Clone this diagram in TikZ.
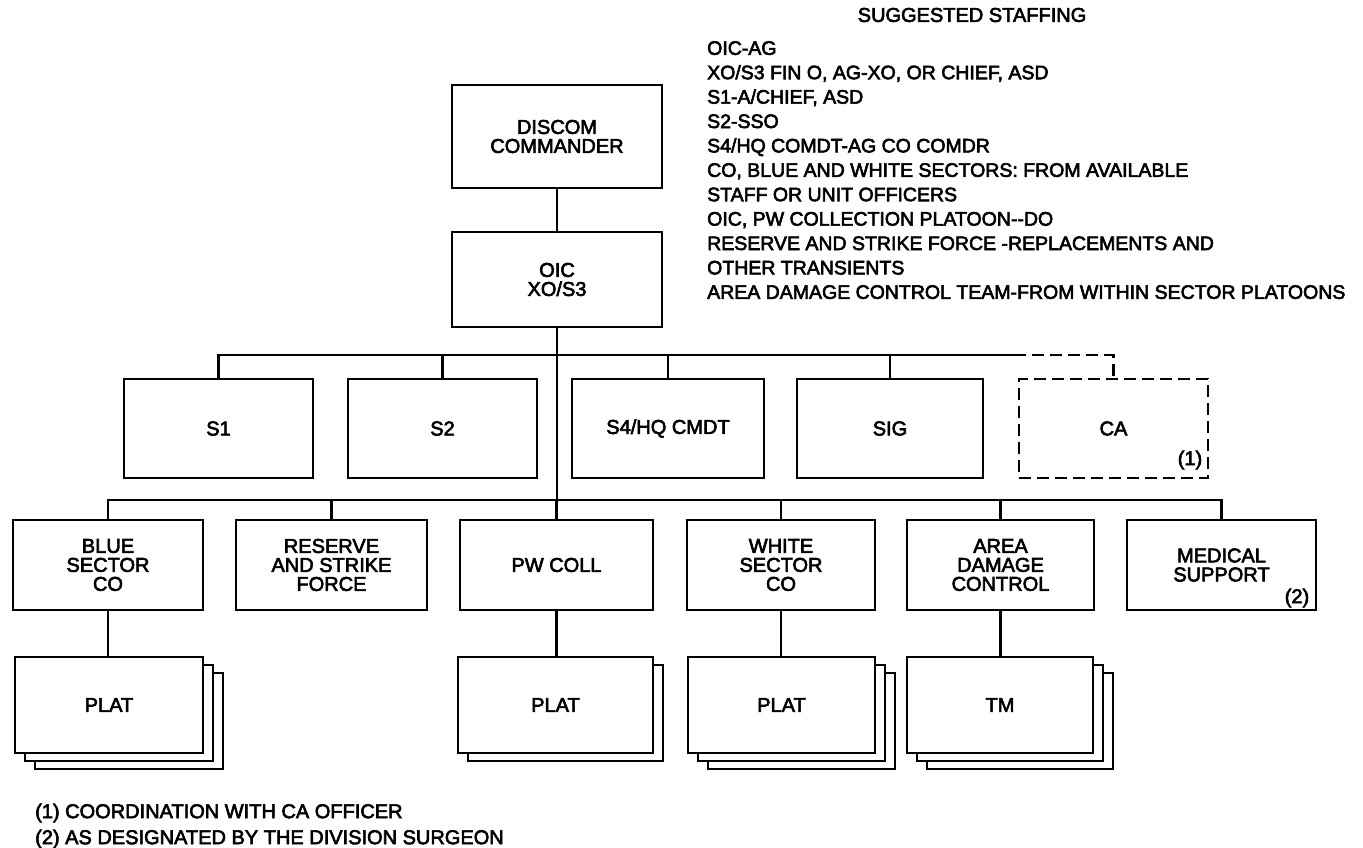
\documentclass[tikz,border=0pt]{standalone}
\usepackage{fontspec}
\setmainfont{Liberation Sans}[FakeBold=3]
\newcommand\labfont{\fontsize{20}{19}\selectfont}
\newcommand\stafffont{\fontsize{19.5}{24.4}\selectfont}
\begin{document}
\begin{tikzpicture}[x=1pt,y=-1pt,
  orgbox/.style={draw, line width=2.6pt, align=center, inner sep=0pt, fill=white, font=\labfont},
  dashbox/.style={orgbox, dash pattern=on 12pt off 6pt},
  conn/.style={line width=2.5pt},
  dconn/.style={line width=2.5pt, dash pattern=on 12pt off 6pt},
  note/.style={font=\labfont, inner sep=0pt}
]
\useasboundingbox (0,0) rectangle (1363,848);

% staffing text
\node[font=\labfont, inner sep=0pt] (head) at (972,15) {SUGGESTED STAFFING};
\node[font=\stafffont, align=left, anchor=north west, inner sep=0pt] (staff) at (707,41) {%
OIC-AG\\
XO/S3 FIN O, AG-XO, OR CHIEF, ASD\\
S1-A/CHIEF, ASD\\
S2-SSO\\
S4/HQ COMDT-AG CO COMDR\\
CO, BLUE AND WHITE SECTORS: FROM AVAILABLE\\
STAFF OR UNIT OFFICERS\\
OIC, PW COLLECTION PLATOON-{}-DO\\
RESERVE AND STRIKE FORCE -REPLACEMENTS AND\\
OTHER TRANSIENTS\\
AREA DAMAGE CONTROL TEAM-FROM WITHIN SECTOR PLATOONS};

% command boxes
\node[orgbox, minimum width=210, minimum height=103] (discom) at (557,136.5) {DISCOM\\COMMANDER};
\node[orgbox, minimum width=210, minimum height=95] (oic) at (557,279.5) {OIC\\XO/S3};

% staff row
\node[orgbox, minimum width=189, minimum height=99] (s1) at (218.5,428.5) {S1};
\node[orgbox, minimum width=189, minimum height=99] (s2) at (442.5,428.5) {S2};
\node[orgbox, minimum width=192, minimum height=99] (s4) at (668,428.5) {S4/HQ CMDT};
\node[orgbox, minimum width=186, minimum height=99] (sig) at (890,428.5) {SIG};
\node[dashbox, minimum width=189, minimum height=99] (ca) at (1113.5,428.5) {CA};
\node[note] (n1) at (1190,460) {(1)};

% unit row
\node[orgbox, minimum width=190, minimum height=90] (blue) at (108,565) {BLUE\\SECTOR\\CO};
\node[orgbox, minimum width=191, minimum height=90] (res) at (331.5,565) {RESERVE\\AND STRIKE\\FORCE};
\node[orgbox, minimum width=193, minimum height=90] (pw) at (556.5,565) {PW COLL};
\node[orgbox, minimum width=188, minimum height=90] (white) at (781,565) {WHITE\\SECTOR\\CO};
\node[orgbox, minimum width=187, minimum height=90] (area) at (1000.5,565) {AREA\\DAMAGE\\CONTROL};
\node[orgbox, minimum width=189, minimum height=90] (med) at (1221.5,565) {MEDICAL\\SUPPORT};
\node[note] (n2) at (1297,598) {(2)};

% stacked subordinate boxes (back layers first)
\node[orgbox, minimum width=188, minimum height=96] (p1c) at (129,721) {};
\node[orgbox, minimum width=188, minimum height=96] (p1b) at (119,713) {};
\node[orgbox, minimum width=188, minimum height=96] (p1) at (109,705) {PLAT};

\node[orgbox, minimum width=195, minimum height=96] (p2b) at (565.5,713) {};
\node[orgbox, minimum width=195, minimum height=96] (p2) at (555.5,705) {PLAT};

\node[orgbox, minimum width=187, minimum height=96] (p3c) at (801.5,721) {};
\node[orgbox, minimum width=187, minimum height=96] (p3b) at (791.5,713) {};
\node[orgbox, minimum width=187, minimum height=96] (p3) at (781.5,705) {PLAT};

\node[orgbox, minimum width=186, minimum height=96] (tmc) at (1020,721) {};
\node[orgbox, minimum width=186, minimum height=96] (tmb) at (1010,713) {};
\node[orgbox, minimum width=186, minimum height=96] (tm) at (1000,705) {TM};

% bus coordinates
\coordinate (ub) at (557,355);
\coordinate (lb) at (557,500);
\coordinate (dashstart) at (1014,355);

% connectors
\draw[conn] (discom.south) -- (oic.north);
\draw[conn] (oic.south) -- (lb);
\draw[conn] (s1.north) |- (dashstart);
\draw[dconn] (dashstart) -| (ca.north);
\foreach \n in {s2,s4,sig} \draw[conn] (\n.north) -- (\n.north |- ub);
\draw[conn] (blue.north) |- (lb) -| (med.north);
\foreach \n in {res,pw,white,area} \draw[conn] (\n.north) -- (\n.north |- lb);
\draw[conn] (blue.south) -- (blue.south |- p1.north);
\draw[conn] (pw.south) -- (pw.south |- p2.north);
\draw[conn] (white.south) -- (white.south |- p3.north);
\draw[conn] (area.south) -- (area.south |- tm.north);

% footnotes
\node[note, anchor=west] (f1) at (35,813) {(1) COORDINATION WITH CA OFFICER};
\node[note, anchor=west] (f2) at (35,839) {(2) AS DESIGNATED BY THE DIVISION SURGEON};
\end{tikzpicture}
\end{document}
